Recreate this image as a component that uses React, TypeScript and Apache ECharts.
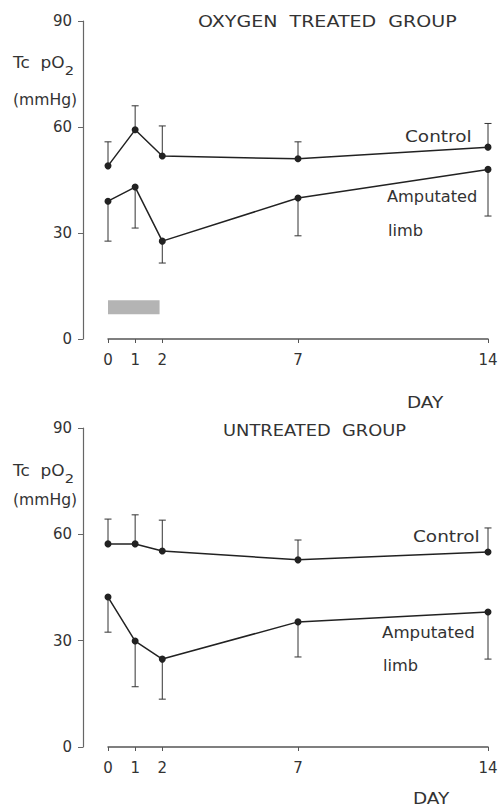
import React, { useEffect, useRef } from 'react';
import * as echarts from 'echarts';

// ---- data ----
const days = [0, 1, 2, 7, 14];
const dayTicks = [0, 1, 2, 7, 14];

// Oxygen treated group
const o2Control = [49, 59.2, 51.8, 51, 54.3];
const o2ControlUpper = [55.8, 66, 60.3, 55.8, 61];
const o2Amputated = [39, 43, 27.7, 39.9, 48];
const o2AmputatedLower = [27.7, 31.4, 21.5, 29.2, 34.8];

// Untreated group
const unControl = [57.3, 57.3, 55.3, 52.8, 55];
const unControlUpper = [64.3, 65.5, 64, 58.4, 61.8];
const unAmputated = [42.3, 29.9, 24.8, 35.3, 38.1];
const unAmputatedLower = [32.4, 17, 13.5, 25.4, 24.8];

// oxygen treatment period (shaded bar)
const oxygenDays = [0, 1.9];
const oxygenBand = [7, 11];

const FONT = 'DejaVu Sans';
const TXT = '#333';
const LINE = '#222';

function pts(vals: number[]) {
  return days.map((d, i) => [d, vals[i]]);
}
function errPts(vals: number[], ends: number[]) {
  return days.map((d, i) => [d, vals[i], ends[i]]);
}

function errRender(params: any, api: any) {
  const x = api.value(0);
  const p0 = api.coord([x, api.value(1)]);
  const p1 = api.coord([x, api.value(2)]);
  const w = 3.5;
  const st = { stroke: '#333', lineWidth: 1 };
  return {
    type: 'group',
    children: [
      { type: 'line', shape: { x1: p0[0], y1: p0[1], x2: p1[0], y2: p1[1] }, style: st },
      { type: 'line', shape: { x1: p1[0] - w, y1: p1[1], x2: p1[0] + w, y2: p1[1] }, style: st },
    ],
  };
}

function lineSeries(idx: number, vals: number[], extra: any = {}) {
  return {
    type: 'line',
    xAxisIndex: idx,
    yAxisIndex: idx,
    data: pts(vals),
    symbol: 'circle',
    symbolSize: 7,
    lineStyle: { color: LINE, width: 1.5 },
    itemStyle: { color: LINE },
    z: 3,
    ...extra,
  };
}

function errSeries(idx: number, vals: number[], ends: number[]) {
  return {
    type: 'custom',
    xAxisIndex: idx,
    yAxisIndex: idx,
    data: errPts(vals, ends),
    encode: { x: 0, y: [1, 2] },
    renderItem: errRender,
    z: 2,
  };
}

function txt(text: string, x: number, y: number, scaleX: number, size = 15) {
  return {
    type: 'text',
    x,
    y,
    scaleX,
    style: {
      text,
      fontFamily: FONT,
      fontSize: size,
      fill: TXT,
      textAlign: 'left',
      textVerticalAlign: 'middle',
    },
  };
}

function tcLabel(x: number, y: number) {
  return {
    type: 'text',
    x,
    y,
    scaleX: 1.13,
    style: {
      text: '{m|Tc  pO}{s|2}',
      fill: TXT,
      textAlign: 'left',
      textVerticalAlign: 'middle',
      rich: {
        m: { fontFamily: FONT, fontSize: 15, fill: TXT, verticalAlign: 'top', lineHeight: 15 },
        s: { fontFamily: FONT, fontSize: 13, fill: TXT, verticalAlign: 'bottom', lineHeight: 22 },
      },
    },
  };
}

const xAxisBase = (gridIndex: number) => ({
  type: 'value',
  gridIndex,
  min: 0,
  max: 14,
  axisLine: { onZero: false, lineStyle: { color: '#555', width: 1.5 } },
  axisTick: { show: true, customValues: dayTicks, length: 4, lineStyle: { color: '#555' } },
  axisLabel: { customValues: dayTicks, margin: 13, fontSize: 15, fontFamily: FONT, color: TXT },
  splitLine: { show: false },
});

const yAxisBase = (gridIndex: number) => ({
  type: 'value',
  gridIndex,
  min: 0,
  max: 90,
  interval: 30,
  offset: 25,
  axisLine: { show: true, onZero: false, lineStyle: { color: '#666', width: 1.2 } },
  axisTick: { show: true, length: 5, lineStyle: { color: '#666' } },
  axisLabel: { margin: 11, fontSize: 15, fontFamily: FONT, color: TXT },
  splitLine: { show: false },
});

export default function App() {
  const ref = useRef<HTMLDivElement>(null);
  useEffect(() => {
    if (!ref.current) return;
    const chart = echarts.init(ref.current, null, { renderer: 'svg' });
    chart.setOption({
      animation: false,
      backgroundColor: '#fff',
      grid: [
        { left: 108, right: 10, top: 21, height: 318, containLabel: false, outerBoundsMode: 'none' },
        { left: 108, right: 10, top: 428, height: 319, containLabel: false, outerBoundsMode: 'none' },
      ],
      xAxis: [xAxisBase(0), xAxisBase(1)],
      yAxis: [yAxisBase(0), yAxisBase(1)],
      series: [
        errSeries(0, o2Control, o2ControlUpper),
        errSeries(0, o2Amputated, o2AmputatedLower),
        lineSeries(0, o2Control),
        lineSeries(0, o2Amputated, {
          markArea: {
            silent: true,
            itemStyle: {
              color: '#b4b4b4',
              decal: { symbol: 'circle', symbolSize: 0.6, dashArrayX: 2, dashArrayY: 2, color: '#e8e8e8' },
            },
            data: [[
              { coord: [oxygenDays[0], oxygenBand[1]] },
              { coord: [oxygenDays[1], oxygenBand[0]] },
            ]],
          },
        }),
        errSeries(1, unControl, unControlUpper),
        errSeries(1, unAmputated, unAmputatedLower),
        lineSeries(1, unControl),
        lineSeries(1, unAmputated),
      ],
      graphic: [
        txt('OXYGEN  TREATED  GROUP', 198, 22, 1.27),
        tcLabel(13, 66),
        txt('(mmHg)', 13, 100, 1.04),
        txt('Control', 405, 137, 1.23),
        txt('Amputated', 387, 197, 1.08),
        txt('limb', 388, 231, 1.08),
        txt('DAY', 407, 403, 1.23),
        txt('UNTREATED  GROUP', 223, 431, 1.19),
        tcLabel(13, 474),
        txt('(mmHg)', 13, 500, 1.04),
        txt('Control', 413, 537, 1.23),
        txt('Amputated', 382, 633, 1.11),
        txt('limb', 383, 666, 1.08),
        txt('DAY', 413, 799, 1.23),
      ],
    });
    return () => chart.dispose();
  }, []);
  return (
    <div
      ref={ref}
      style={{ position: 'fixed', left: 0, top: 0, width: 498, height: 808, background: '#fff' }}
    />
  );
}
